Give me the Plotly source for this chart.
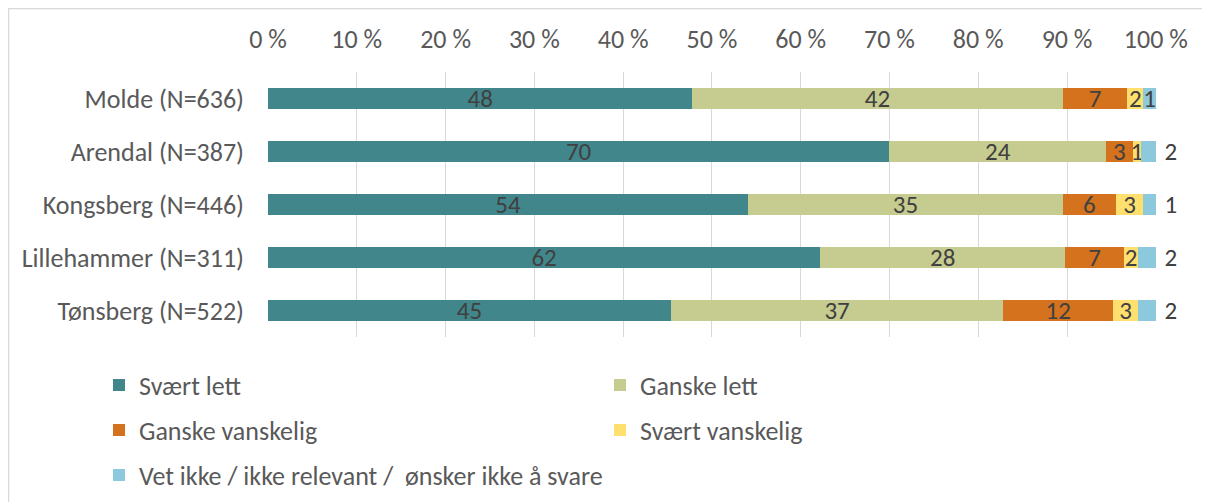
import plotly.graph_objects as go

categories = ["Molde (N=636)", "Arendal (N=387)", "Kongsberg (N=446)", "Lillehammer (N=311)", "Tønsberg (N=522)"]
series_names = ["Svært lett", "Ganske lett", "Ganske vanskelig", "Svært vanskelig",
                "Vet ikke / ikke relevant /  ønsker ikke å svare"]
svaert_lett = [47.8, 70.0, 54.1, 62.2, 45.4]
ganske_lett = [41.7, 24.4, 35.4, 27.6, 37.4]
ganske_vanskelig = [7.3, 3.0, 6.0, 6.6, 12.4]
svaert_vanskelig = [1.8, 0.9, 3.1, 1.6, 2.8]
vet_ikke = [1.4, 1.7, 1.4, 2.0, 2.0]
x_ticks = [0, 10, 20, 30, 40, 50, 60, 70, 80, 90, 100]
x_tick_labels = [f"{t} %" for t in x_ticks]

colors = ["#41868B", "#C6CC8F", "#D4721E", "#FFE06F", "#8DC9DC"]
FONT = "Calibri, Carlito, Lato, sans-serif"
TXT = "#404040"
GREY = "#595959"

all_series = [svaert_lett, ganske_lett, ganske_vanskelig, svaert_vanskelig, vet_ikke]
legend_ids = ["legend", "legend", "legend2", "legend2", "legend3"]

# page body adds an 8px offset; reference coordinates are converted to figure coordinates
OFF = 8
W, H = 1210, 502
L, T = 268 - OFF, 72 - OFF
R = W - (1156 - OFF)
B = H - (337 - OFF)
pw = W - L - R
ph = H - T - B


def px_x(p):
    return (p - OFF - L) / pw


def px_y(p):
    return (H - B - (p - OFF)) / ph


fig = go.Figure()
for i, (name, vals) in enumerate(zip(series_names, all_series)):
    if i == 4:
        tpos = ["inside", "outside", "outside", "outside", "outside"]
        ttpl = ["%{x:.0f}"] + ["\u00a0%{x:.0f}"] * 4
    else:
        tpos = "inside"
        ttpl = "%{x:.0f}"
    fig.add_trace(go.Bar(
        y=categories, x=vals, name=name, orientation="h",
        marker=dict(color=colors[i], line=dict(width=0)),
        texttemplate=ttpl, textposition=tpos, textangle=0,
        insidetextanchor="middle", constraintext="none", cliponaxis=False,
        textfont=dict(family=FONT, size=25, color=TXT),
        outsidetextfont=dict(family=FONT, size=25, color=TXT),
        legend=legend_ids[i],
    ))

leg_common = dict(orientation="h", entrywidthmode="pixels",
                  font=dict(family=FONT, size=26, color=GREY),
                  xanchor="left", yanchor="middle", bgcolor="rgba(0,0,0,0)",
                  traceorder="normal", itemclick=False, tracegroupgap=0)

leg_x = ((139 - OFF) - 40 - L) / pw

fig.update_layout(
    width=W, height=H,
    margin=dict(l=L, r=R, t=T, b=B, autoexpand=False),
    paper_bgcolor="white", plot_bgcolor="white",
    barmode="stack", bargap=0.6,
    font=dict(family=FONT, color=GREY),
    xaxis=dict(side="top", range=[0, 100.02], tickvals=x_ticks, ticktext=x_tick_labels,
               showgrid=True, gridcolor="#D9D9D9", gridwidth=1, zeroline=False,
               showline=False, ticks="", ticklabelstandoff=18, automargin=False,
               tickfont=dict(family=FONT, size=26, color=GREY)),
    yaxis=dict(categoryorder="array", categoryarray=categories, autorange="reversed",
               showgrid=False, zeroline=False, showline=False, ticks="",
               ticklabelstandoff=23, automargin=False,
               tickfont=dict(family=FONT, size=26, color=GREY)),
    legend=dict(x=leg_x, y=px_y(385), entrywidth=456, **leg_common),
    legend2=dict(x=leg_x, y=px_y(430), entrywidth=456, **leg_common),
    legend3=dict(x=leg_x, y=px_y(475), entrywidth=700, **leg_common),
    showlegend=True,
    shapes=[dict(type="rect", xref="paper", yref="paper",
                 x0=px_x(8.5), x1=px_x(1300), y0=px_y(600), y1=px_y(8.5),
                 line=dict(color="#D9D9D9", width=1.5), fillcolor="rgba(0,0,0,0)",
                 layer="below")],
)

fig.write_html("out.html")
